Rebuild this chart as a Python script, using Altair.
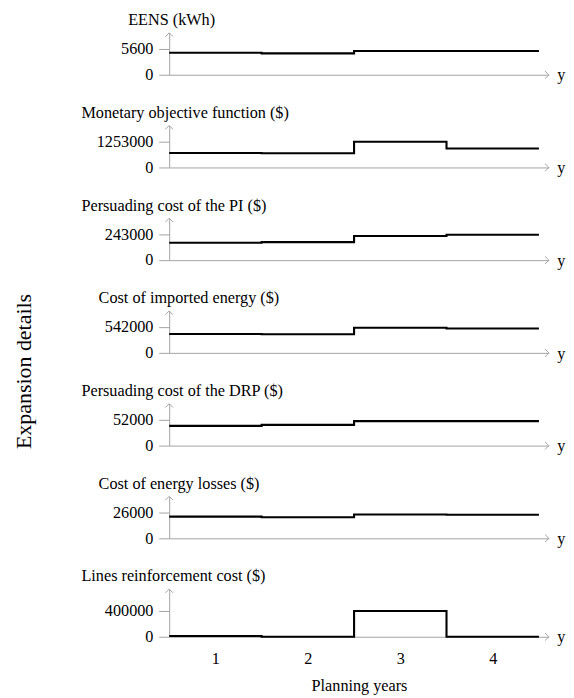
import altair as alt
import pandas as pd

years = [1, 2, 3, 4]
titles = [
    "EENS (kWh)",
    "Monetary objective function ($)",
    "Persuading cost of the PI ($)",
    "Cost of imported energy ($)",
    "Persuading cost of the DRP ($)",
    "Cost of energy losses ($)",
    "Lines reinforcement cost ($)",
]
tick_max = [5600, 1253000, 243000, 542000, 52000, 26000, 400000]
eens = [4770, 4640, 5150, 5150]
monetary = [705000, 690000, 1253000, 924000]
pi_cost = [164000, 170000, 228000, 240000]
imported = [399000, 392000, 528000, 513000]
drp = [39900, 41900, 49500, 49500]
losses = [21900, 21300, 24100, 23800]
reinforce = [12000, 0, 400000, 0]
series = [eens, monetary, pi_cost, imported, drp, losses, reinforce]

# layout only: horizontal shift of each panel title from the y axis
title_dx = [-43, -92, -92, -74, -92, -74, -92]

FONT = "Liberation Serif"
FS = 17
GRAY = "#a0a0a0"
W = 398
X_DOMAIN = [0.5, 4.607]


def panel(i, last=False):
    values = series[i]
    H = 50 if last else 44
    top = tick_max[i] * H / 27.0
    rows = [{"x": y - 0.5, "v": v} for y, v in zip(years, values)]
    rows.append({"x": years[-1] + 0.5, "v": values[-1]})
    df = pd.DataFrame(rows)
    xscale = alt.Scale(domain=X_DOMAIN, nice=False, zero=False)
    yscale = alt.Scale(domain=[0, top], nice=False, zero=True)
    if last:
        xaxis = alt.Axis(values=years, ticks=False, domainColor=GRAY, domainWidth=1,
                         labelFont=FONT, labelFontSize=FS, labelColor="black",
                         labelPadding=15, title="Planning years", titleFont=FONT,
                         titleFontSize=FS, titleFontWeight="normal", titleColor="black",
                         titlePadding=12, grid=False, labelAngle=0, format="d")
    else:
        xaxis = alt.Axis(labels=False, ticks=False, title=None, domainColor=GRAY,
                         domainWidth=1, grid=False)
    yaxis = alt.Axis(values=[0, tick_max[i]], title=None, tickSize=11, tickColor=GRAY,
                     tickWidth=1, domainColor=GRAY, domainWidth=1, labelFont=FONT,
                     labelFontSize=FS, labelColor="black", labelPadding=6, grid=False,
                     format="d")
    line = alt.Chart(df).mark_line(interpolate="step-after", color="black",
                                   strokeWidth=2.2).encode(
        x=alt.X("x:Q", scale=xscale, axis=xaxis),
        y=alt.Y("v:Q", scale=yscale, axis=yaxis),
    )
    up_df = pd.DataFrame({"x": [X_DOMAIN[0]], "v": [top]})
    up = alt.Chart(up_df).mark_point(shape="M-1,1L0,0L1,1", size=64, filled=False,
                                     stroke=GRAY, strokeWidth=1, opacity=1).encode(
        x=alt.X("x:Q", scale=xscale), y=alt.Y("v:Q", scale=yscale))
    right_df = pd.DataFrame({"x": [X_DOMAIN[1]], "v": [0], "t": ["y"]})
    right = alt.Chart(right_df).mark_point(shape="M-1,-1L0,0L-1,1", size=64, filled=False,
                                           stroke=GRAY, strokeWidth=1, opacity=1).encode(
        x=alt.X("x:Q", scale=xscale), y=alt.Y("v:Q", scale=yscale))
    ylab = alt.Chart(right_df).mark_text(font=FONT, fontSize=FS, color="black", dx=13,
                                         dy=1, align="center", baseline="middle").encode(
        x=alt.X("x:Q", scale=xscale), y=alt.Y("v:Q", scale=yscale), text="t:N")
    return alt.layer(line, up, right, ylab).properties(
        width=W, height=H,
        title=alt.TitleParams(titles[i], anchor="start", frame="group", dx=title_dx[i],
                              font=FONT, fontSize=FS, fontWeight="normal", color="black",
                              offset=2),
    )


panels = [panel(i, last=(i == len(series) - 1)) for i in range(len(series))]

chart = alt.vconcat(*panels, spacing=53.2, bounds="flush").properties(
    title=alt.TitleParams("Expansion details", orient="left", anchor="middle", font=FONT,
                          fontSize=23, fontWeight="normal", color="black", offset=48,
                          dx=-20),
    padding={"left": 6, "top": -13, "right": 0, "bottom": 0},
).configure_view(stroke=None)

chart.save("out.html", embed_options={"renderer": "svg", "actions": False})
